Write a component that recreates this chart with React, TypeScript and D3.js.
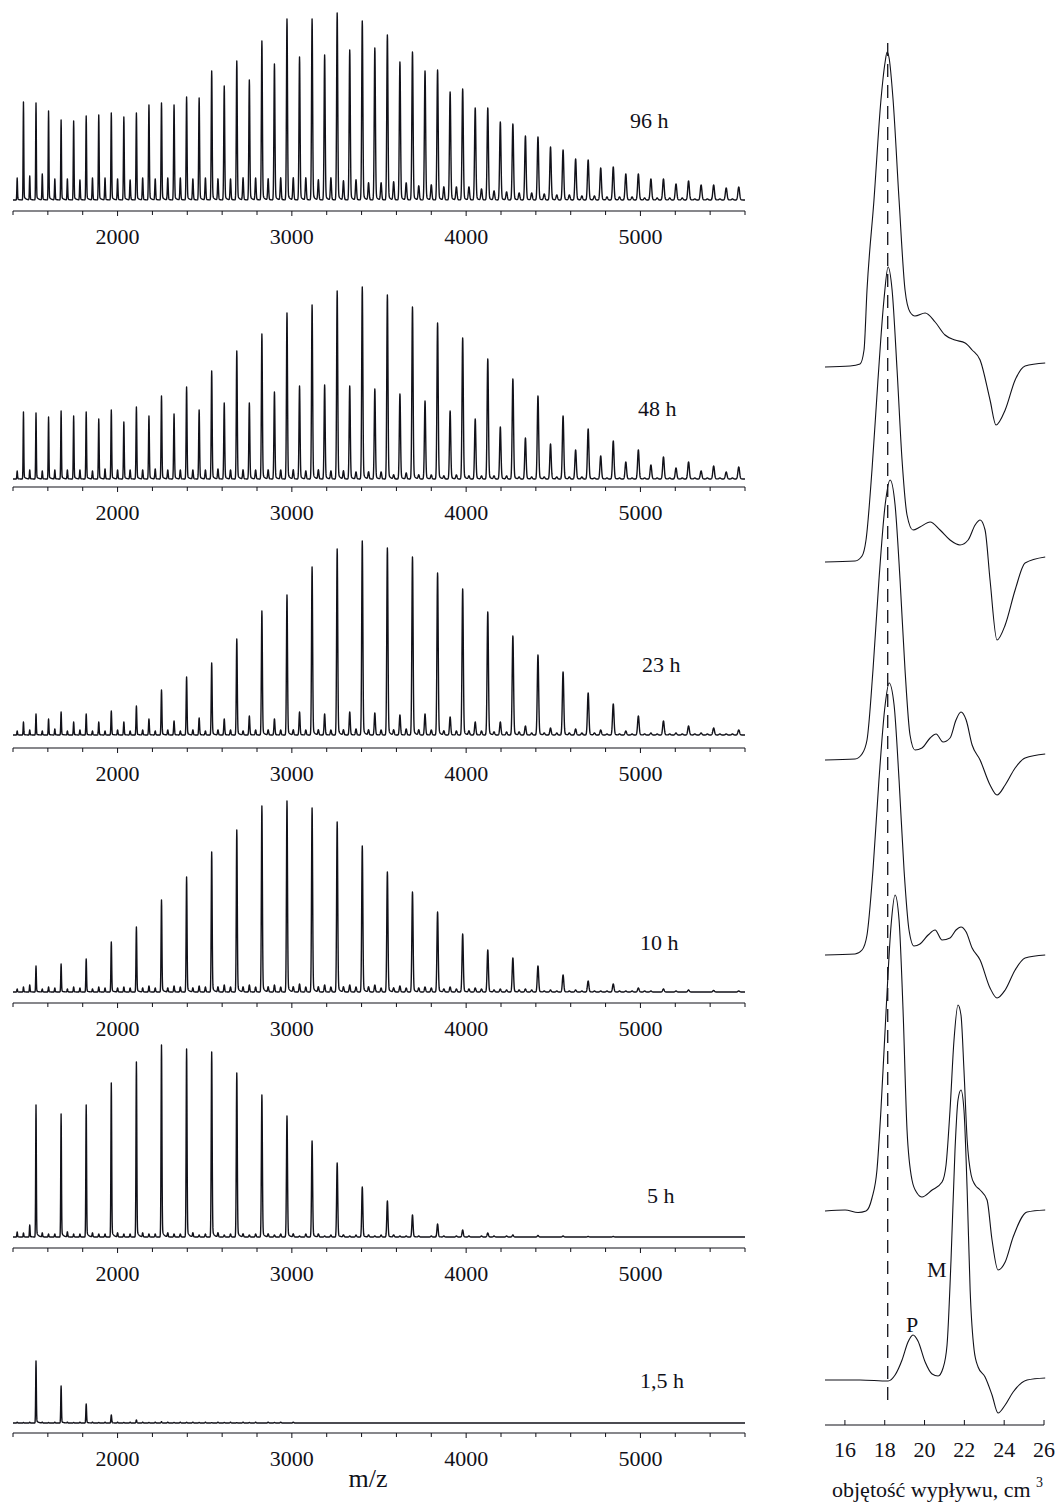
import React, { useMemo } from "react";
import * as d3 from "d3";

// ---------- DATA ----------
const panelLabels = ["96 h", "48 h", "23 h", "10 h", "5 h", "1,5 h"];
const mzTickLabels = [2000, 3000, 4000, 5000];
const mzMinorTicks = d3.range(1400, 5601, 200);
const evenStart = 1532; // main series (144 Da repeat)
const oddStart = 1460; // odd series
const minorStart = 1424; // small side peaks (72 Da repeat)
const repeatUnit = 144;
const halfUnit = 72;

// intensities (a.u.)
const even96 = [97, 80, 84, 87, 87, 97, 103, 129, 139, 159, 181, 181, 187, 179, 165, 148, 130, 111, 92, 76, 63, 50, 40, 33, 26, 21, 19, 15, 13];
const odd96 = [98, 89, 79, 85, 83, 95, 95, 102, 114, 120, 136, 143, 145, 150, 152, 138, 129, 108, 92, 78, 64, 53, 41, 32, 26, 21, 16, 15, 12];
const minor96 = [22, 24, 26, 21, 21, 20, 22, 22, 21, 20, 22, 21, 22, 22, 21, 22, 21, 21, 22, 22, 21, 22, 22, 22, 20, 22, 19, 20, 17, 17, 18, 17, 14, 15, 13, 13, 13, 11, 9, 8, 7, 7, 6, 5, 5, 4, 4, 3, 3, 3, 2, 2, 2, 2, 1, 1, 1, 1];

const even48 = [66, 68, 67, 69, 72, 83, 92, 108, 128, 145, 166, 174, 188, 192, 184, 172, 156, 141, 120, 100, 83, 63, 50, 38, 29, 22, 17, 13, 12];
const odd48 = [67, 62, 63, 60, 57, 63, 65, 69, 76, 76, 87, 93, 94, 93, 90, 85, 78, 68, 60, 52, 41, 35, 29, 23, 17, 14, 11, 8, 7];
const minor48 = [8, 9, 8, 9, 9, 9, 8, 10, 9, 9, 9, 10, 9, 9, 9, 9, 10, 9, 9, 9, 9, 9, 9, 8, 9, 8, 8, 7, 7, 7, 4, 6, 4, 4, 3, 4, 3, 3, 3, 3, 2, 2, 2, 2, 2, 2, 1, 1, 1, 1, 1, 1, 1, 1, 1, 1, 1, 1];

const even23 = [21, 23, 21, 24, 29, 45, 58, 72, 96, 124, 140, 168, 186, 194, 187, 178, 162, 146, 123, 99, 80, 63, 42, 31, 19, 14, 9, 7, 5];
const odd23 = [13, 16, 13, 13, 13, 16, 14, 17, 16, 19, 16, 23, 21, 23, 22, 20, 21, 18, 13, 13, 9, 7, 6, 5, 4, 2, 2, 2, 1];
const minor23 = [4, 5, 4, 6, 4, 5, 4, 4, 5, 4, 5, 4, 5, 4, 5, 4, 5, 5, 4, 5, 5, 5, 5, 5, 5, 5, 5, 6, 5, 5, 5, 6, 5, 5, 4, 4, 4, 4, 3, 3, 3, 2, 2, 2, 2, 2, 2, 1, 1, 1, 1, 1, 1, 1, 1, 1, 1, 1];

const even10 = [26, 28, 33, 50, 65, 92, 115, 140, 162, 186, 191, 184, 170, 146, 120, 100, 80, 58, 42, 34, 26, 17, 11, 8, 4, 3, 2, 1.5, 1];
const odd10 = [5, 5, 5, 5, 5, 6, 6, 6, 7, 7, 7, 8, 7, 7, 7, 6, 5, 5, 4, 3, 3, 2, 2, 1, 1, 1, 1, 0, 0];
const minor10 = [3, 7, 3, 4, 3, 4, 3, 4, 4, 4, 4, 4, 4, 5, 4, 5, 5, 5, 5, 5, 5, 5, 5, 5, 5, 5, 5, 5, 5, 4, 4, 4, 4, 4, 3, 3, 3, 3, 2, 2, 2, 2, 1, 1, 1, 1, 1, 1, 1, 1, 1, 0, 0, 0, 0, 0, 0, 0];

const even5 = [132, 123, 132, 154, 175, 192, 188, 185, 164, 142, 121, 96, 74, 50, 36, 22, 13, 7, 4, 2, 1.5, 1, 0.5, 0.5, 0, 0, 0, 0, 0];
const odd5 = [4, 3, 3, 3, 3, 3, 3, 2, 2, 2, 2, 1, 1, 1, 1, 1, 0, 0, 0, 0, 0, 0, 0, 0, 0, 0, 0, 0, 0];
const minor5 = [5, 12, 4, 3, 5, 3, 4, 3, 4, 3, 4, 3, 4, 3, 4, 3, 4, 3, 3, 3, 3, 3, 3, 3, 3, 2, 2, 2, 2, 2, 2, 1, 1, 1, 1, 1, 1, 1, 1, 1, 0, 0, 0, 0, 0, 0, 0, 0, 0, 0, 0, 0, 0, 0, 0, 0, 0, 0];

const even15 = [62, 37, 19, 8, 3, 1.3, 0.7, 0.4, 0.3, 0, 0, 0, 0, 0, 0, 0, 0, 0, 0, 0, 0, 0, 0, 0, 0, 0, 0, 0, 0];
const odd15 = [0.5, 0.5, 0.5, 0.5, 0.5, 0.5, 0.5, 0.5, 0.5, 0.5, 0.5, 0, 0, 0, 0, 0, 0, 0, 0, 0, 0, 0, 0, 0, 0, 0, 0, 0, 0];
const minor15 = [0.8, 0.8, 0.8, 0.8, 0.8, 0.8, 0.8, 0.8, 0.8, 0.8, 0.8, 0.8, 0.8, 0.8, 0.8, 0.8, 0.8, 0.8, 0.8, 0.8, 0.8, 0.8, 0.8, 0, 0, 0, 0, 0, 0, 0, 0, 0, 0, 0, 0, 0, 0, 0, 0, 0, 0, 0, 0, 0, 0, 0, 0, 0, 0, 0, 0, 0, 0, 0, 0, 0, 0, 0];

// GPC traces: [elution volume cm3, detector signal a.u.]
const gpc96: [number, number][] = [[15, 0], [16.26, 1], [16.76, 3], [16.96, 17], [17.11, 77], [17.46, 167], [17.81, 267], [18.02, 305], [18.12, 315], [18.22, 309], [18.42, 267], [18.72, 167], [19.02, 77], [19.27, 55], [19.52, 51], [20.03, 54], [20.53, 45], [21.03, 32], [21.53, 27], [22.04, 24], [22.39, 17], [22.79, 7], [23.29, -33], [23.59, -58], [24.05, -43], [24.55, -13], [25.05, 1], [26.06, 4]];
const gpc48: [number, number][] = [[15, 0], [16.51, 1], [16.86, 6], [17.06, 22], [17.36, 92], [17.66, 182], [17.96, 262], [18.17, 295], [18.37, 272], [18.62, 192], [18.87, 102], [19.12, 47], [19.42, 32], [19.77, 35], [20.28, 40], [20.78, 32], [21.28, 22], [21.78, 17], [22.19, 22], [22.54, 37], [22.79, 42], [23.04, 32], [23.29, -18], [23.64, -78], [24.05, -63], [24.55, -28], [25.05, -1], [26.06, 5]];
const gpc23: [number, number][] = [[15, 0], [16.51, 1], [16.86, 6], [17.11, 20], [17.41, 90], [17.71, 180], [18.02, 255], [18.27, 280], [18.52, 255], [18.77, 180], [19.02, 90], [19.27, 25], [19.52, 10], [19.87, 12], [20.28, 22], [20.58, 26], [20.93, 18], [21.28, 22], [21.58, 40], [21.83, 48], [22.09, 40], [22.39, 15], [22.79, 0], [23.29, -25], [23.64, -35], [24.05, -25], [24.55, -8], [25.05, 2], [26.06, 6]];
const gpc10: [number, number][] = [[15, 0], [16.51, 1], [16.86, 5], [17.11, 20], [17.41, 85], [17.71, 175], [18.02, 250], [18.22, 272], [18.47, 250], [18.72, 175], [18.97, 85], [19.22, 25], [19.47, 9], [19.77, 11], [20.18, 20], [20.53, 25], [20.88, 15], [21.28, 17], [21.58, 25], [21.83, 28], [22.09, 23], [22.39, 7], [22.79, -5], [23.29, -33], [23.64, -43], [24.05, -35], [24.55, -15], [25.05, -3], [26.06, 0]];
const gpc5: [number, number][] = [[15, 0], [16.01, 1], [16.66, -1.5], [17.06, 0], [17.36, 13], [17.61, 41], [17.81, 101], [18.07, 201], [18.32, 286], [18.52, 316], [18.72, 291], [18.92, 201], [19.12, 81], [19.37, 31], [19.62, 18], [19.87, 14], [20.38, 21], [20.88, 29], [21.08, 46], [21.28, 101], [21.48, 171], [21.68, 206], [21.83, 196], [21.98, 141], [22.14, 71], [22.34, 36], [22.54, 26], [22.79, 21], [23.14, 11], [23.39, -29], [23.69, -59], [24.05, -51], [24.45, -26], [25.15, -1], [26.06, 1]];
const gpc15: [number, number][] = [[15, 0], [16.76, 0], [18.17, -1], [18.52, 5], [18.87, 20], [19.17, 38], [19.42, 45], [19.67, 39], [20.03, 18], [20.38, 6], [20.68, 4], [20.93, 12], [21.13, 35], [21.33, 120], [21.53, 230], [21.68, 280], [21.83, 290], [21.98, 270], [22.14, 190], [22.29, 90], [22.49, 30], [22.69, 13], [23.04, 3], [23.39, -15], [23.69, -33], [24.05, -25], [24.45, -12], [25.15, 0], [26.06, 2]];
const gpcTickLabels = [16, 18, 20, 22, 24, 26];
const gpcMarkerVolume = 18.15;

const spectraSeries = [
  { even: even96, odd: odd96, minor: minor96 },
  { even: even48, odd: odd48, minor: minor48 },
  { even: even23, odd: odd23, minor: minor23 },
  { even: even10, odd: odd10, minor: minor10 },
  { even: even5, odd: odd5, minor: minor5 },
  { even: even15, odd: odd15, minor: minor15 },
];
const gpcSeries = [gpc96, gpc48, gpc23, gpc10, gpc5, gpc15];

// ---------- LAYOUT ----------
const W = 1061;
const H = 1511;
const INK = "#111119";
const FONT = "'Liberation Serif', 'Times New Roman', serif";
const panelLayout = [
  { axisY: 211, baseY: 200, labelX: 630, labelY: 128 },
  { axisY: 487, baseY: 479, labelX: 638, labelY: 416 },
  { axisY: 748, baseY: 735, labelX: 642, labelY: 672 },
  { axisY: 1003, baseY: 992, labelX: 640, labelY: 950 },
  { axisY: 1248, baseY: 1237, labelX: 647, labelY: 1203 },
  { axisY: 1433, baseY: 1423, labelX: 640, labelY: 1388 },
];
const gpcBase = [367, 562, 760, 955, 1211, 1380];
const gpcAxisY = 1425;

const MZ_MIN = 1400;
const MZ_MAX = 5600;

function buildSpectrum(even: number[], odd: number[], minor: number[]) {
  const n = MZ_MAX - MZ_MIN + 1;
  const y = new Float64Array(n);
  const add = (center: number, h: number) => {
    if (!h || h <= 0) return;
    const s = 1.8 + 0.0007 * (center - MZ_MIN);
    const lo = Math.max(0, Math.floor(center - 4 * s - MZ_MIN));
    const hi = Math.min(n - 1, Math.ceil(center + 40 - MZ_MIN));
    for (let i = lo; i <= hi; i++) {
      const d = MZ_MIN + i - center;
      let v = h * Math.exp((-0.5 * d * d) / (s * s));
      if (d > 0) v += h * 0.05 * Math.exp(-d / 10) * (1 - Math.exp(-d / 2));
      y[i] += v;
    }
  };
  even.forEach((h, i) => add(evenStart + repeatUnit * i, h));
  odd.forEach((h, i) => add(oddStart + repeatUnit * i, h));
  minor.forEach((h, i) => add(minorStart + halfUnit * i, h));
  return Array.from(y, (v, i) => [MZ_MIN + i, v] as [number, number]);
}

export default function App() {
  const x = d3.scaleLinear().domain([MZ_MIN, MZ_MAX]).range([13, 745]);
  const gx = d3.scaleLinear().domain([15, 26]).range([825, 1044]);

  const spectra = useMemo(
    () => spectraSeries.map((s) => buildSpectrum(s.even, s.odd, s.minor)),
    []
  );

  return (
    <svg
      width={W}
      height={H}
      viewBox={`0 0 ${W} ${H}`}
      style={{ position: "absolute", left: 0, top: 0, background: "#fff" }}
      fontFamily={FONT}
    >
      <rect x={0} y={0} width={W} height={H} fill="#fff" />
      {panelLayout.map((p, pi) => {
        const y = d3.scaleLinear().domain([0, 200]).range([p.baseY, p.baseY - 200]);
        const line = d3
          .line<[number, number]>()
          .x((d) => x(d[0]))
          .y((d) => y(d[1]));
        return (
          <g key={pi}>
            <path d={line(spectra[pi]) || ""} fill="none" stroke={INK} strokeWidth={1.4} strokeLinejoin="round" />
            <line x1={x(MZ_MIN)} x2={x(MZ_MAX)} y1={p.axisY} y2={p.axisY} stroke={INK} strokeWidth={1.2} />
            {mzMinorTicks.map((t) => (
              <line key={t} x1={x(t)} x2={x(t)} y1={p.axisY} y2={p.axisY + (t % 1000 === 0 ? 5 : 4)} stroke={INK} strokeWidth={1} />
            ))}
            {mzTickLabels.map((t) => (
              <text key={t} x={x(t)} y={p.axisY + 33} fontSize={22} textAnchor="middle" fill={INK}>
                {t}
              </text>
            ))}
            <text x={p.labelX} y={p.labelY} fontSize={22} fill={INK}>
              {panelLabels[pi]}
            </text>
          </g>
        );
      })}
      <text x={368} y={1487} fontSize={26} textAnchor="middle" fill={INK}>
        m/z
      </text>

      {/* GPC traces */}
      {gpcSeries.map((tr, ti) => {
        const gy = d3.scaleLinear().domain([0, 300]).range([gpcBase[ti], gpcBase[ti] - 300]);
        const line = d3
          .line<[number, number]>()
          .x((d) => gx(d[0]))
          .y((d) => gy(d[1]))
          .curve(d3.curveMonotoneX);
        return <path key={ti} d={line(tr) || ""} fill="none" stroke={INK} strokeWidth={1.1} />;
      })}
      <line
        x1={gx(gpcMarkerVolume)}
        x2={gx(gpcMarkerVolume)}
        y1={43}
        y2={1400}
        stroke={INK}
        strokeWidth={1.3}
        strokeDasharray="13 8"
      />
      <line x1={gx(15)} x2={gx(26)} y1={gpcAxisY} y2={gpcAxisY} stroke={INK} strokeWidth={1.2} />
      {gpcTickLabels.map((t) => (
        <g key={t}>
          <line x1={gx(t)} x2={gx(t)} y1={gpcAxisY} y2={gpcAxisY - 5} stroke={INK} strokeWidth={1} />
          <text x={gx(t)} y={1457} fontSize={22} textAnchor="middle" fill={INK}>
            {t}
          </text>
        </g>
      ))}
      <text x={832} y={1497} fontSize={22} fill={INK}>
        objętość wypływu, cm
      </text>
      <text x={1036} y={1487} fontSize={14} fill={INK}>
        3
      </text>
      <text x={906} y={1332} fontSize={22} fill={INK}>
        P
      </text>
      <text x={927} y={1277} fontSize={22} fill={INK}>
        M
      </text>
    </svg>
  );
}
